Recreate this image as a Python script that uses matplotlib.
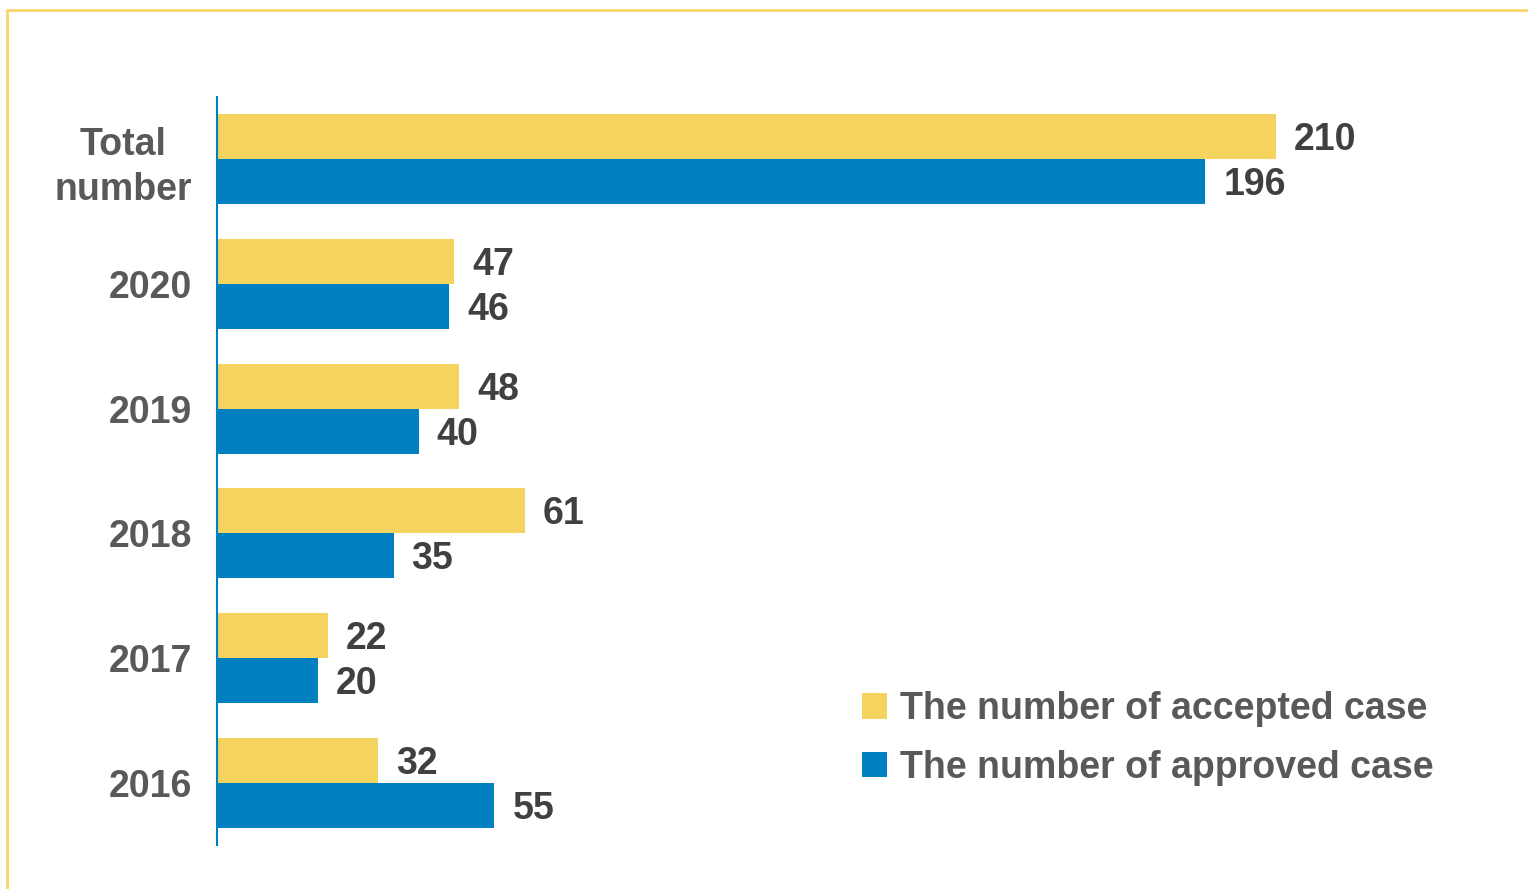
import matplotlib.pyplot as plt
import matplotlib.patches as mpatches
import numpy as np

plt.rcParams['font.family'] = ['Liberation Sans', 'DejaVu Sans']
plt.rcParams['font.weight'] = 'bold'

categories = ["Total\nnumber", "2020", "2019", "2018", "2017", "2016"]
accepted = [210, 47, 48, 61, 22, 32]
approved = [196, 46, 40, 35, 20, 55]
series_names = ["The number of accepted case", "The number of approved case"]

yellow = "#F5D35F"
blue = "#0080C0"

W, H = 1528, 889
fig = plt.figure(figsize=(W / 100, H / 100), dpi=100)
ax = fig.add_axes([217 / W, 44 / H, 1283 / W, 748 / H])

y = np.arange(len(categories))
h = 0.36
ax.barh(y - h / 2, accepted, height=h, color=yellow, label=series_names[0])
ax.barh(y + h / 2, approved, height=h, color=blue, label=series_names[1])

for yi, a, b in zip(y, accepted, approved):
    ax.annotate(str(a), (a, yi - h / 2), xytext=(13, -2.5), textcoords="offset points",
                va="center", ha="left", fontsize=27, color="#404040")
    ax.annotate(str(b), (b, yi + h / 2), xytext=(13, -2.5), textcoords="offset points",
                va="center", ha="left", fontsize=27, color="#404040")

ax.set_xlim(0, 1283 / 5.043)
ax.set_ylim(len(categories) - 0.5, -0.5)
ax.set_yticks(y)
ax.set_yticklabels(categories, fontsize=27, color="#595959",
                   multialignment="center", linespacing=1.3)
ax.tick_params(axis="y", length=0, pad=18)
ax.set_xticks([])
for s in ["top", "right", "bottom"]:
    ax.spines[s].set_visible(False)
ax.spines["left"].set_color(blue)
ax.spines["left"].set_linewidth(1.5)

leg = ax.legend(loc="upper left", bbox_to_anchor=(862 / W, 1 - 691 / H),
                bbox_transform=fig.transFigure, frameon=False, fontsize=27,
                handlelength=0.67, handleheight=0.67, handletextpad=0.35,
                labelspacing=0.6, borderpad=0, borderaxespad=0)
for t in leg.get_texts():
    t.set_color("#595959")

# yellow frame around the picture (open on the right and bottom)
fig.patches.append(mpatches.Rectangle((7 / W, -0.1), 1.2, 1.1 - 10 / H,
                                      transform=fig.transFigure, fill=False,
                                      edgecolor="#F8D66A", linewidth=2))

fig.savefig("out.png", dpi=100)
